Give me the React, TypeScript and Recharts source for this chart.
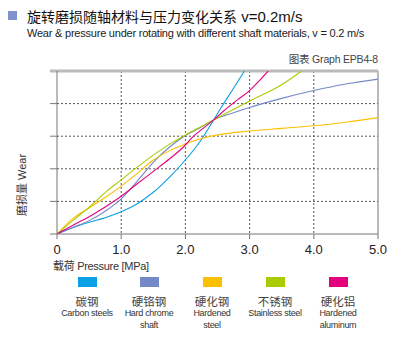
import React from 'react';
import { LineChart, Line, XAxis, YAxis, CartesianGrid, ReferenceLine } from 'recharts';

const xTicks = [0, 1, 2, 3, 4, 5];
const yTicks = [0, 1, 2, 3, 4];

const carbonSteel = [
  { x: 0, y: 0 }, { x: 0.25, y: 0.2 }, { x: 0.5, y: 0.36 }, { x: 0.75, y: 0.5 },
  { x: 1.0, y: 0.68 }, { x: 1.25, y: 0.93 }, { x: 1.5, y: 1.28 }, { x: 1.75, y: 1.74 },
  { x: 2.0, y: 2.27 }, { x: 2.25, y: 2.9 }, { x: 2.44, y: 3.5 }, { x: 2.58, y: 3.95 },
  { x: 2.75, y: 4.47 }, { x: 2.92, y: 5.0 },
];
const hardChrome = [
  { x: 0, y: 0 }, { x: 0.25, y: 0.2 }, { x: 0.5, y: 0.41 }, { x: 0.75, y: 0.7 },
  { x: 1.0, y: 1.08 }, { x: 1.25, y: 1.62 }, { x: 1.5, y: 2.2 }, { x: 1.75, y: 2.66 },
  { x: 2.0, y: 3.02 }, { x: 2.25, y: 3.28 }, { x: 2.44, y: 3.5 }, { x: 2.75, y: 3.72 },
  { x: 3.0, y: 3.88 }, { x: 3.5, y: 4.16 }, { x: 4.0, y: 4.4 }, { x: 4.5, y: 4.6 },
  { x: 5.0, y: 4.75 },
];
const hardenedSteel = [
  { x: 0, y: 0 }, { x: 0.25, y: 0.48 }, { x: 0.5, y: 0.8 }, { x: 0.75, y: 1.12 },
  { x: 1.0, y: 1.47 }, { x: 1.25, y: 1.86 }, { x: 1.5, y: 2.27 }, { x: 1.75, y: 2.55 },
  { x: 2.0, y: 2.76 }, { x: 2.25, y: 2.93 }, { x: 2.5, y: 3.04 }, { x: 3.0, y: 3.16 },
  { x: 3.5, y: 3.24 }, { x: 4.0, y: 3.32 }, { x: 4.5, y: 3.43 }, { x: 5.0, y: 3.57 },
];
const stainlessSteel = [
  { x: 0, y: 0 }, { x: 0.25, y: 0.42 }, { x: 0.5, y: 0.82 }, { x: 0.75, y: 1.27 },
  { x: 1.0, y: 1.66 }, { x: 1.25, y: 2.05 }, { x: 1.5, y: 2.42 }, { x: 1.75, y: 2.75 },
  { x: 2.0, y: 3.04 }, { x: 2.25, y: 3.3 }, { x: 2.44, y: 3.5 }, { x: 2.75, y: 3.82 },
  { x: 3.0, y: 4.08 }, { x: 3.5, y: 4.58 }, { x: 3.81, y: 5.0 },
];
const hardenedAluminum = [
  { x: 0, y: 0 }, { x: 0.25, y: 0.27 }, { x: 0.5, y: 0.53 }, { x: 0.75, y: 0.83 },
  { x: 1.0, y: 1.16 }, { x: 1.25, y: 1.54 }, { x: 1.5, y: 1.92 }, { x: 1.75, y: 2.3 },
  { x: 2.0, y: 2.73 }, { x: 2.1, y: 2.95 }, { x: 2.25, y: 3.2 }, { x: 2.44, y: 3.5 },
  { x: 2.6, y: 3.78 }, { x: 2.8, y: 4.1 }, { x: 3.0, y: 4.4 }, { x: 3.15, y: 4.7 },
  { x: 3.29, y: 5.0 },
];

const seriesNames = ['碳钢', '硬铬钢', '硬化钢', '不锈钢', '硬化铝'];
const seriesEnglish = [['Carbon steels'], ['Hard chrome', 'shaft'], ['Hardened', 'steel'], ['Stainless steel'], ['Hardened', 'aluminum']];
const seriesColors = ['#0aa0e6', '#7589c6', '#fcc000', '#aacb00', '#e5007e'];
const seriesData = [carbonSteel, hardChrome, hardenedSteel, stainlessSteel, hardenedAluminum];
const legendCenters = [87, 149, 212, 275, 338];

const titleCn = '旋转磨损随轴材料与压力变化关系';
const titleSpeed = ' v=0.2m/s';
const subtitle = 'Wear & pressure under rotating with different shaft materials, v = 0.2 m/s';
const graphId = '图表 Graph EPB4-8';
const xLabel = '载荷 Pressure  [MPa]';
const yLabel = '磨损量 Wear';

const sans = '"Liberation Sans", Arial, "Noto Sans CJK SC", sans-serif';
const cjk = '"Noto Sans CJK SC", "Liberation Sans", sans-serif';

export default function App() {
  return (
    <div style={{ position: 'absolute', left: 0, top: 0, width: 400, height: 360, background: '#fff', fontFamily: sans }}>
      <div style={{ position: 'absolute', left: 8, top: 11, width: 9, height: 9, background: '#7f92cc' }} />
      <div style={{ position: 'absolute', left: 27, top: 6, fontSize: 14, lineHeight: '20px', fontFamily: cjk, color: '#111', whiteSpace: 'nowrap' }}>
        {titleCn}<span style={{ fontFamily: sans, fontSize: 15 }}>{titleSpeed}</span>
      </div>
      <div style={{ position: 'absolute', left: 27, top: 26, fontSize: 11, letterSpacing: -0.22, lineHeight: '15px', color: '#222', whiteSpace: 'nowrap' }}>{subtitle}</div>
      <div style={{ position: 'absolute', right: 22, top: 52, fontSize: 10.5, letterSpacing: -0.2, lineHeight: '15px', color: '#444', whiteSpace: 'nowrap' }}>{graphId}</div>
      <LineChart width={400} height={360} margin={{ top: 71, left: 47, right: 22, bottom: 96 }} style={{ position: 'absolute', left: 0, top: 0 }}>
        <CartesianGrid stroke="#555" strokeDasharray="2 2" horizontalValues={[1, 2, 3, 4]} verticalValues={[1, 2, 3, 4]} />
        <XAxis type="number" dataKey="x" domain={[0, 5]} ticks={xTicks} allowDataOverflow
          tickFormatter={(v: number) => (v === 0 ? '0' : v.toFixed(1))}
          stroke="#777" tickSize={5} tickMargin={6} height={30}
          tick={{ fontSize: 13, fill: '#222', fontFamily: sans }} />
        <YAxis type="number" dataKey="y" domain={[0, 5]} ticks={yTicks} allowDataOverflow width={10}
          tickFormatter={() => ''} stroke="#777" tickSize={7} />
        <ReferenceLine x={5} stroke="#777" />
        <ReferenceLine segment={[{ x: -0.11, y: 5 }, { x: 5, y: 5 }]} stroke="#bbb" strokeWidth={3} ifOverflow="visible" />
        {seriesData.map((d, i) => (
          <Line key={seriesNames[i]} data={d} dataKey="y" type="monotone" stroke={seriesColors[i]} strokeWidth={1.1}
            dot={false} activeDot={false} isAnimationActive={false} />
        ))}
      </LineChart>
      <div style={{ position: 'absolute', left: 21, top: 185, transform: 'translate(-50%, -50%) rotate(-90deg)', fontSize: 11, fontFamily: sans, color: '#333', whiteSpace: 'nowrap' }}>{yLabel}</div>
      <div style={{ position: 'absolute', left: 53, top: 258, fontSize: 11, letterSpacing: -0.3, lineHeight: '16px', fontFamily: sans, color: '#333', whiteSpace: 'nowrap' }}>{xLabel}</div>
      {seriesNames.map((name, i) => (
        <div key={name} style={{ position: 'absolute', left: legendCenters[i] - 40, top: 277, width: 80, textAlign: 'center' }}>
          <div style={{ width: 19, height: 10, background: seriesColors[i], margin: '0 auto' }} />
          <div style={{ fontSize: 11.5, lineHeight: '12px', marginTop: 8, fontFamily: cjk, color: '#444' }}>{name}</div>
          {seriesEnglish[i].map((line) => (
            <div key={line} style={{ fontSize: 9, letterSpacing: -0.3, lineHeight: '12px', color: '#333', whiteSpace: 'nowrap' }}>{line}</div>
          ))}
        </div>
      ))}
    </div>
  );
}
